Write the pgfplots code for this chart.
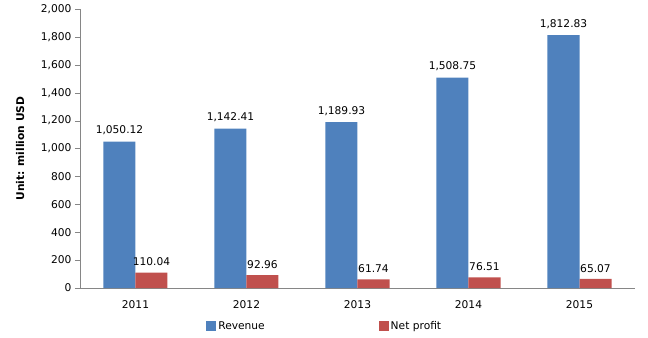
\documentclass[border=0pt]{standalone}
\usepackage{pgfplots}
\pgfplotsset{compat=1.18}
\usepackage{fontspec}
\setmainfont{DejaVu Sans}
\definecolor{rev}{HTML}{4F81BD}
\definecolor{np}{HTML}{C0504D}
\definecolor{ax}{HTML}{868686}
\begin{document}
\begin{tikzpicture}
\useasboundingbox (-80bp,-50bp) rectangle (568bp,288bp);
\begin{axis}[
  scale only axis,
  width=555bp, height=279bp,
  font=\fontsize{10.7}{12}\selectfont,
  /pgf/number format/assume math mode=true,
  ybar=0pt, bar width=32bp,
  xmin=-0.5, xmax=4.5, ymin=0, ymax=2000,
  xtick={0,1,2,3,4},
  xticklabels={2011,2012,2013,2014,2015},
  extra x ticks={-0.5,0.5,1.5,2.5,3.5,4.5},
  extra x tick labels={},
  extra x tick style={major tick length=5bp, tick style={ax}},
  x tick style={draw=none},
  xticklabel style={yshift=-4bp},
  ytick={0,200,...,2000},
  yticklabel style={/pgf/number format/1000 sep={,}},
  y tick style={ax},
  major tick length=5bp,
  tick align=outside,
  axis x line*=bottom, axis y line*=left,
  axis line style={ax, -},
  ylabel={\bfseries Unit: million USD},
  ylabel style={at={(axis description cs:-0.108,0.5)}, anchor=center},
  nodes near coords,
  every node near coord/.append style={font=\fontsize{10.7}{12}\selectfont, yshift=3bp,
    /pgf/number format/.cd, fixed, fixed zerofill, precision=2, 1000 sep={,}},
  legend style={at={(0.441,-0.136)}, anchor=center, draw=none, legend columns=2,
    /tikz/every even column/.append style={column sep=112bp}, font=\fontsize{10.7}{12}\selectfont},
  legend image code/.code={\fill[#1] (0bp,-5bp) rectangle (10bp,5bp);},
]
\addplot[fill=rev, draw=none] coordinates {(0,1050.12) (1,1142.41) (2,1189.93) (3,1508.75) (4,1812.83)};
\addplot[fill=np, draw=none] coordinates {(0,110.04) (1,92.96) (2,61.74) (3,76.51) (4,65.07)};
\legend{Revenue, Net profit}
\end{axis}
\end{tikzpicture}
\end{document}
